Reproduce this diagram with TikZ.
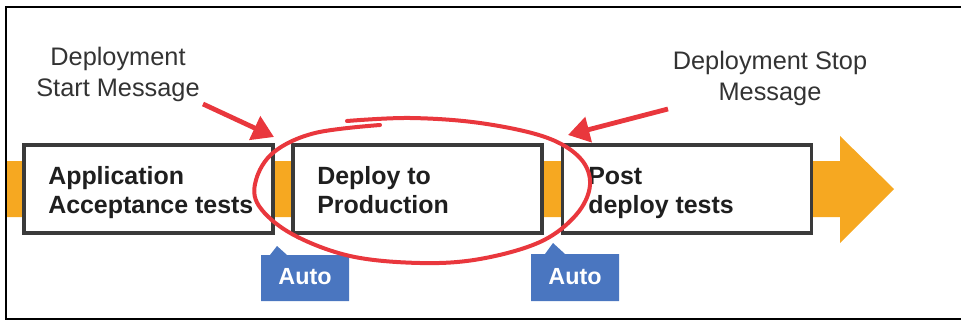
\documentclass[tikz,border=0pt]{standalone}
\usepackage{fontspec}
\setmainfont{Liberation Sans}
\usetikzlibrary{arrows.meta}
\definecolor{bandorange}{HTML}{F6A821}
\definecolor{autoblue}{HTML}{4A76C0}
\definecolor{markred}{HTML}{E9373D}
\definecolor{boxgray}{HTML}{3A3A3A}
\definecolor{labelgray}{HTML}{333333}
\tikzset{
  stagebox/.style={draw=boxgray, line width=2.6pt, fill=white, minimum width=186.75pt, minimum height=66pt, inner sep=0pt},
  stagetext/.style={anchor=base west, align=left, font=\fontsize{18.7}{21}\selectfont\bfseries, text=black!88, inner sep=0pt},
  autotext/.style={font=\fontsize{17.5}{20}\selectfont\bfseries, text=white, inner sep=0pt},
  msg/.style={align=center, font=\fontsize{19}{23.3}\selectfont, text=labelgray, inner sep=0pt},
  redarrow/.style={draw=markred, line width=3.6pt, -{Triangle[length=16pt,width=19pt]}},
}
\begin{document}
\begin{tikzpicture}[x=0.75pt,y=-0.75pt]
\useasboundingbox (0,0) rectangle (961,321);
% frame
\draw[line width=1.6pt, black] (961,7) -- (6,7) -- (6,319) -- (961,319);
% orange band and arrow head
\fill[bandorange] (7,161) -- (840,161) -- (840,136) -- (894,189) -- (840,243) -- (840,217) -- (7,217) -- cycle;
% stage boxes
\node[stagebox] (s1) at (148.5,189) {};
\node[stagebox] (s2) at (417.5,189) {};
\node[stagebox] (s3) at (687,189) {};
\node[stagetext] (t1) at (48,213) {Application\\Acceptance tests};
\node[stagetext] (t2) at (317,213) {Deploy to\\Production};
\node[stagetext] (t3) at (588,213) {Post\\deploy tests};
% Auto tags
\fill[autoblue] (261,255) -- (270,255) -- (277,246) -- (287,255) -- (349,255) -- (349,301) -- (261,301) -- cycle;
\node[autotext] (a1) at (305,277) {Auto};
\fill[autoblue] (531,254) -- (545,254) -- (553,243) -- (565,254) -- (619,254) -- (619,301) -- (531,301) -- cycle;
\node[autotext] (a2) at (575,277) {Auto};
% red hand-drawn ring
\draw[markred, line width=3pt, line cap=round] plot[smooth, tension=0.6] coordinates {
 (347,121) (410,118) (480,123) (545,137) (580,158) (590,185) (576,215) (540,242) (480,259) (420,263) (350,256) (292,234) (259,206) (256,180) (274,152) (315,133) (380,125)};
% labels
\node[msg] (m1) at (118,74) {Deployment\\Start Message};
\node[msg] (m2) at (770,78) {Deployment Stop\\Message};
% red arrows
\coordinate (p1) at (203,104);
\coordinate (q1) at (274,137);
\coordinate (p2) at (668,109);
\coordinate (q2) at (568,135);
\draw[redarrow] (p1) -- (q1);
\draw[redarrow] (p2) -- (q2);
\end{tikzpicture}
\end{document}
